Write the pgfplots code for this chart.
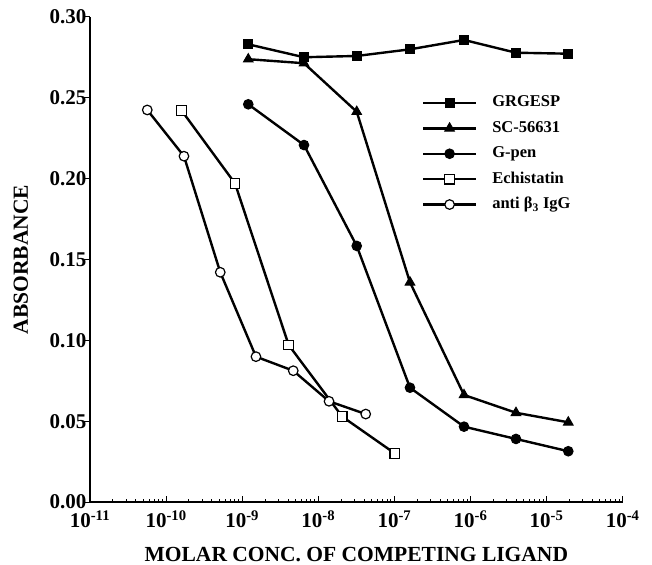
\documentclass[border=0pt]{standalone}
\usepackage{fontspec}
\setmainfont{Liberation Serif}
\usepackage{pgfplots}
\pgfplotsset{compat=1.18}

% measured off the reference: curves share the same concentrations
\pgfplotstableread{
x         grgesp  sc      gpen
1.202e-9  0.2831  0.2739  0.2460
6.49e-9   0.2751  0.2714  0.2208
3.20e-8   0.2759  0.2414  0.1584
1.603e-7  0.2800  0.1359  0.0707
8.22e-7   0.2858  0.0662  0.0466
3.96e-6   0.2779  0.0552  0.0390
1.928e-5  0.2773  0.0493  0.0314
}\maintab
\usepackage{pgfplotstable}

\begin{document}
\begin{tikzpicture}
\begin{axis}[
  at={(0,0)}, anchor=south west,
  scale only axis,
  width=532.7bp, height=485bp,
  xmode=log,
  xmin=1e-11, xmax=1e-4,
  ymin=0, ymax=0.30,
  clip=false,
  axis x line=bottom, axis y line=left,
  axis line style={-, line width=1.3bp},
  xtick={1e-11,1e-10,1e-9,1e-8,1e-7,1e-6,1e-5,1e-4},
  xticklabels={10\textsuperscript{-11},10\textsuperscript{-10},10\textsuperscript{-9},10\textsuperscript{-8},10\textsuperscript{-7},10\textsuperscript{-6},10\textsuperscript{-5},10\textsuperscript{-4}},
  minor xtick={2e-11,3e-11,4e-11,5e-11,6e-11,7e-11,8e-11,9e-11,
    2e-10,3e-10,4e-10,5e-10,6e-10,7e-10,8e-10,9e-10,
    2e-9,3e-9,4e-9,5e-9,6e-9,7e-9,8e-9,9e-9,
    2e-8,3e-8,4e-8,5e-8,6e-8,7e-8,8e-8,9e-8,
    2e-7,3e-7,4e-7,5e-7,6e-7,7e-7,8e-7,9e-7,
    2e-6,3e-6,4e-6,5e-6,6e-6,7e-6,8e-6,9e-6,
    2e-5,3e-5,4e-5,5e-5,6e-5,7e-5,8e-5,9e-5},
  ytick={0,0.05,0.10,0.15,0.20,0.25,0.30},
  yticklabel style={/pgf/number format/.cd, fixed, fixed zerofill, precision=2, assume math mode=true},
  ticklabel style={font=\bfseries\fontsize{21bp}{21bp}\selectfont},
  xticklabel style={yshift=-5bp},
  tick align=inside,
  major tick length=6bp, minor tick length=3.5bp,
  tick style={black, line width=1bp},
  y tick style={xshift=-6bp},
  xlabel={MOLAR CONC. OF COMPETING LIGAND},
  ylabel={ABSORBANCE},
  label style={font=\bfseries\fontsize{21.5bp}{21.5bp}\selectfont},
  xlabel style={at={(axis description cs:0.5,-0.1217)}, anchor=base},
  ylabel style={at={(axis description cs:-0.1164,0.5)}, rotate=0, anchor=base},
  legend style={draw=none, fill=none, inner sep=0pt,
    at={(axis description cs:0.6227,0.8397)}, anchor=north west,
    font=\bfseries\fontsize{16.5bp}{16.5bp}\selectfont,
    row sep=9.4bp, column sep=15bp,
    nodes={inner sep=0pt, text height=12bp, text depth=4bp}},
  legend cell align=left,
  legend image code/.code={\draw[#1, mark repeat=2, mark phase=2]
    plot coordinates {(0bp,0bp) (26.5bp,0bp) (53bp,0bp)};},
  every axis plot/.append style={black, line width=2.4bp},
]
\addplot[mark=square*, mark size=4.5bp, mark options={solid, line width=1bp}]
  table[x=x, y=grgesp] {\maintab};
\addplot[mark=triangle*, mark size=5.5bp, mark options={solid, line width=1bp}]
  table[x=x, y=sc] {\maintab};
\addplot[mark=*, mark size=4.8bp, mark options={solid, line width=1bp}]
  table[x=x, y=gpen] {\maintab};
\addplot[mark=square*, mark size=4.8bp, mark options={solid, fill=white, line width=1.2bp}]
  coordinates {(1.603e-10,0.2421) (8.04e-10,0.1971) (4.08e-9,0.0971) (2.065e-8,0.0528) (1.01e-7,0.0301)};
\addplot[mark=*, mark size=4.8bp, mark options={solid, fill=white, line width=1.2bp}]
  coordinates {(5.66e-11,0.2425) (1.718e-10,0.2139) (5.15e-10,0.1421) (1.517e-9,0.0899)
    (4.69e-9,0.0812) (1.384e-8,0.0623) (4.20e-8,0.0544)};
\legend{GRGESP, SC-56631, G-pen, Echistatin, anti β\textsubscript{3} IgG}
\end{axis}
\pgfresetboundingbox
\path[use as bounding box] (-90bp,-63bp) rectangle (562bp,502bp);
\end{tikzpicture}
\end{document}
